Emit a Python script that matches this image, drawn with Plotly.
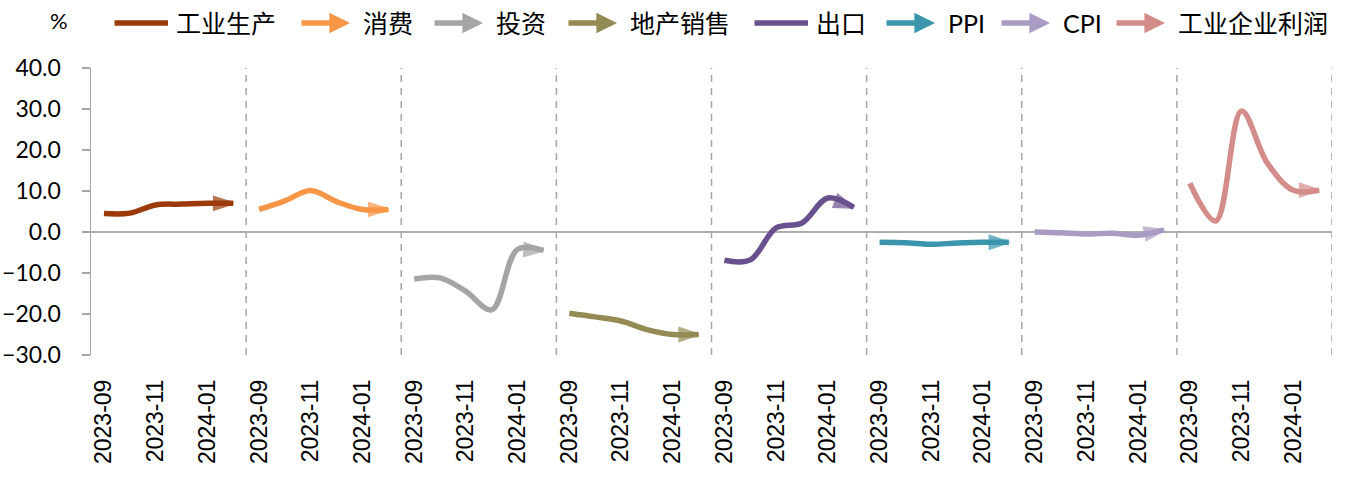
import plotly.graph_objects as go

# ---------------- data ----------------
months = ["2023-09", "2023-10", "2023-11", "2023-12", "2024-01", "2024-02"]
series_names = ["工业生产", "消费", "投资", "地产销售", "出口", "PPI", "CPI", "工业企业利润"]
industrial = [4.5, 4.6, 6.6, 6.8, 7.0, 7.0]
retail = [5.5, 7.6, 10.1, 7.4, 5.5, 5.5]
investment = [-11.5, -11.2, -14.5, -19.0, -4.2, -4.5]
property_sales = [-19.8, -20.7, -21.7, -23.8, -25.0, -25.0]
exports = [-6.9, -6.8, 1.0, 2.2, 8.3, 6.0]
ppi = [-2.5, -2.6, -3.0, -2.7, -2.5, -2.5]
cpi = [0.0, -0.2, -0.5, -0.3, -0.8, 0.5]
profits = [11.9, 2.7, 29.5, 16.8, 10.2, 10.2]
y_ticks = [-30, -20, -10, 0, 10, 20, 30, 40]
label_every = 2

# ---------------- style / layout ----------------
colors = ["#9C3A0C", "#F79646", "#A5A5A5", "#948A54", "#69508F", "#3B96AD", "#A99BC3", "#D48C8A"]
legend_has_arrow = [False, True, True, True, False, True, True, True]
legend_line_start_px = [113, 300, 433, 567, 753, 885, 1000, 1115]   # legend layout (pixels)
legend_line_len_px = 55
legend_text_gap_px = 6
legend_center_px = 23

W, H = 1349, 478
ML, MR, MT, MB = 91, 17, 68, 123
plot_w = W - ML - MR
plot_h = H - MT - MB


def px_to_paper_x(px):
    return (px - ML) / plot_w


def px_to_paper_y(py):
    return (H - MB - py) / plot_h


all_values = [industrial, retail, investment, property_sales, exports, ppi, cpi, profits]
n = len(months)
latin = "Lato, 'Noto Sans CJK SC', sans-serif"

fig = go.Figure()
for k, (name, vals, col) in enumerate(zip(series_names, all_values, colors)):
    xs = [k * n + i for i in range(n)]
    fig.add_trace(go.Scatter(
        x=xs, y=vals, mode="lines+markers", name=name, showlegend=False,
        line=dict(color=col, width=5.5, shape="spline", smoothing=1.0),
        marker=dict(symbol=["circle"] * (n - 1) + ["arrow"],
                    size=[0] * (n - 1) + [20], color=col, angleref="previous",
                    line=dict(width=2.5, color=col)),
        hoverinfo="skip",
    ))

# panel separators (dashed) derived from category counts
for k in range(len(series_names)):
    fig.add_shape(type="line", xref="x", yref="paper",
                  x0=(k + 1) * n - 0.5, x1=(k + 1) * n - 0.5, y0=0, y1=1,
                  line=dict(color="#A6A6A6", width=1.5, dash="7px,6px"), layer="below")

# custom legend (line / arrow + label)
annotations = []
ly = px_to_paper_y(legend_center_px)
for name, col, arrow, x0 in zip(series_names, colors, legend_has_arrow, legend_line_start_px):
    tip = x0 + legend_line_len_px - (5 if arrow else 0)
    annotations.append(dict(
        x=px_to_paper_x(tip), y=ly, xref="paper", yref="paper",
        ax=-(tip - x0), ay=0, text="", showarrow=True,
        arrowhead=2 if arrow else 0, arrowsize=0.75, arrowwidth=5.5, arrowcolor=col,
    ))
    annotations.append(dict(
        x=px_to_paper_x(x0 + legend_line_len_px + legend_text_gap_px), y=ly,
        xref="paper", yref="paper", xanchor="left", yanchor="middle",
        text=name, showarrow=False,
        font=dict(family=latin, size=25, color="#000000"),
    ))
annotations.append(dict(text="%", xref="paper", yref="paper",
                        x=px_to_paper_x(59), y=px_to_paper_y(20),
                        xanchor="center", yanchor="middle", showarrow=False,
                        font=dict(family=latin, size=22, color="#000000")))

tickvals = [k * n + i for k in range(len(series_names)) for i in range(0, n, label_every)]
ticktext = [months[i] for k in range(len(series_names)) for i in range(0, n, label_every)]

fig.update_layout(
    width=W, height=H,
    margin=dict(l=ML, r=MR, t=MT, b=MB),
    plot_bgcolor="white", paper_bgcolor="white",
    font=dict(family=latin, size=23, color="#000000"),
    showlegend=False,
    hovermode=False,
    xaxis=dict(range=[-0.5, len(series_names) * n - 0.5], tickmode="array",
               tickvals=tickvals, ticktext=ticktext, tickangle=-90,
               tickfont=dict(family="'Liberation Sans', Arial, sans-serif", size=23, color="#000000"),
               showgrid=False, zeroline=False, showline=False, ticks="",
               ticklabelstandoff=19, automargin=False),
    yaxis=dict(range=[-30, 40], tickmode="array", tickvals=y_ticks, tickformat=".1f",
               tickfont=dict(family=latin, size=23, color="#000000"),
               showgrid=False, zeroline=True, zerolinecolor="#ADADAD", zerolinewidth=2,
               showline=True, linecolor="#A6A6A6", linewidth=1.5,
               ticks="outside", ticklen=8, tickcolor="#A6A6A6", tickwidth=1.5,
               ticklabelstandoff=16, automargin=False),
    annotations=annotations,
)

fig.write_html("out.html", config={"displayModeBar": False, "staticPlot": True},
               post_script="document.body.style.margin='0';document.body.style.padding='0';")
